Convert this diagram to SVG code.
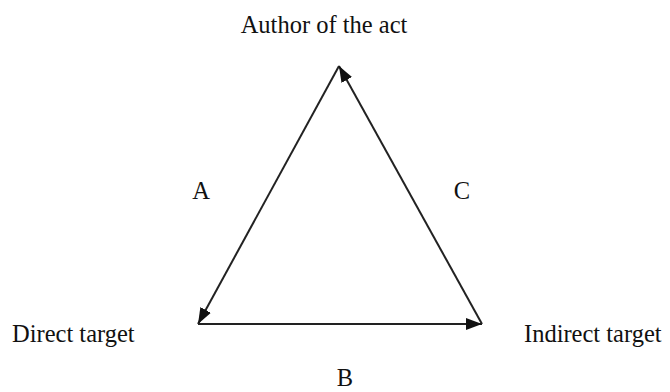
<svg xmlns="http://www.w3.org/2000/svg" width="670" height="392" viewBox="0 0 670 392">
<style>
text{font-family:"Liberation Serif","Times New Roman",serif;font-size:24.5px;fill:#111}
.e{stroke:#222;stroke-width:2;fill:none}
</style>
<defs>
<marker id="ah" viewBox="0 0 16 12" refX="16" refY="6" markerWidth="16" markerHeight="12" markerUnits="userSpaceOnUse" orient="auto">
<path d="M0,0 L16,6 L0,12 Z" fill="#111"/>
</marker>
</defs>
<rect width="670" height="392" fill="#fff"/>
<g id="connectors">
<line class="e" x1="339" y1="66" x2="198" y2="324" marker-end="url(#ah)"/>
<line class="e" x1="198" y1="324" x2="482" y2="324" marker-end="url(#ah)"/>
<line class="e" x1="482" y1="324" x2="339" y2="66" marker-end="url(#ah)"/>
</g>
<g id="author"><text x="324" y="33" text-anchor="middle">Author of the act</text></g>
<g id="direct"><text x="12" y="342">Direct target</text></g>
<g id="indirect"><text x="524" y="342">Indirect target</text></g>
<g id="labelA"><text x="201" y="199" text-anchor="middle">A</text></g>
<g id="labelB"><text x="345" y="386" text-anchor="middle">B</text></g>
<g id="labelC"><text x="462" y="199" text-anchor="middle">C</text></g>
</svg>
